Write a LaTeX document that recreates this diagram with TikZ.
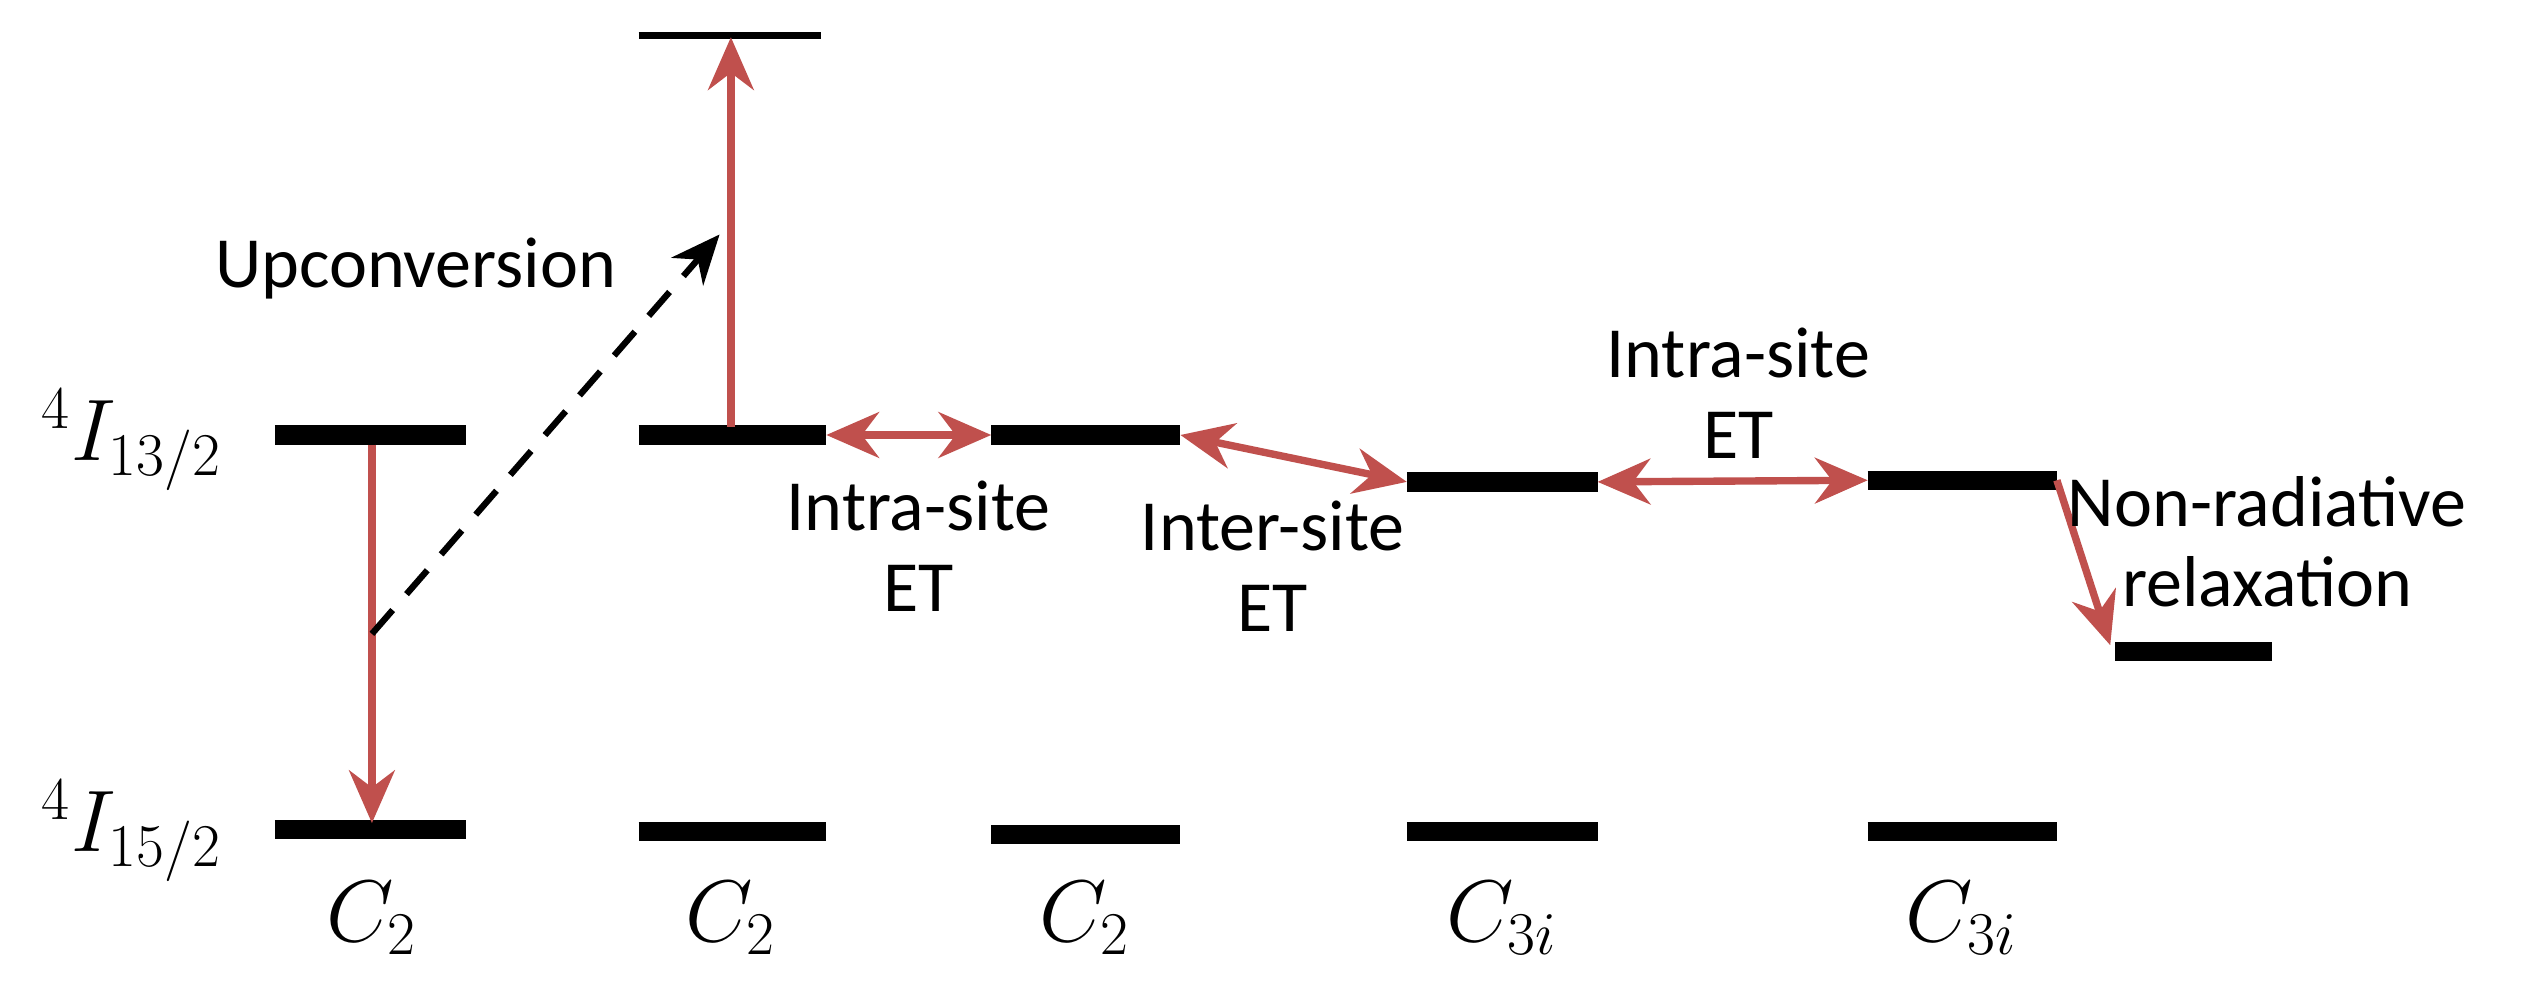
\documentclass[tikz,border=0pt]{standalone}
\usepackage{fontspec}
\setsansfont{Carlito}
\usetikzlibrary{arrows.meta}
\definecolor{arr}{RGB}{192,80,77}
\begin{document}
\begin{tikzpicture}[x=0.01617cm,y=-0.01617cm,
  lev/.style={line width=5.5pt},
  red/.style={draw=arr,line width=2.1pt,-{Stealth[length=15pt,width=13pt]}},
  dred/.style={draw=arr,line width=2.1pt,{Stealth[length=15pt,width=13pt]}-{Stealth[length=15pt,width=13pt]}},
  lab/.style={font=\sffamily\fontsize{20.5}{23}\selectfont,align=center},
  mlab/.style={font=\fontsize{25}{28}\selectfont}]
\useasboundingbox (0,0) rectangle (1567.7,607.3);
% levels
\coordinate (a1l) at (170,269); \coordinate (a1r) at (288,269);
\coordinate (a0l) at (170,513); \coordinate (a0r) at (288,513);
\coordinate (b1l) at (395,269); \coordinate (b1r) at (511,269);
\coordinate (b0l) at (395,514); \coordinate (b0r) at (511,514);
\coordinate (btl) at (395,22); \coordinate (btr) at (508,22);
\coordinate (c1l) at (613,269); \coordinate (c1r) at (730,269);
\coordinate (c0l) at (613,516); \coordinate (c0r) at (730,516);
\coordinate (d1l) at (870,298); \coordinate (d1r) at (988,298);
\coordinate (d0l) at (870,514); \coordinate (d0r) at (988,514);
\coordinate (e1l) at (1155,297); \coordinate (e1r) at (1272,297);
\coordinate (e0l) at (1155,514); \coordinate (e0r) at (1272,514);
\coordinate (f1l) at (1308,403); \coordinate (f1r) at (1405,403);
\foreach \p in {a1,a0,b1,b0,c1,c0,d1,d0,e1,e0,f1} \draw[lev] (\p l) -- (\p r);
\draw[line width=1.9pt] (btl) -- (btr);
% arrows
\coordinate (s1) at (230,275); \coordinate (t1) at (230,509);
\draw[red] (s1) -- (t1);
\coordinate (s2) at (452,264); \coordinate (t2) at (452,23);
\draw[red] (s2) -- (t2);
\draw[dred] (b1r) -- (c1l);
\draw[dred] (c1r) -- (d1l);
\draw[dred] (d1r) -- (e1l);
\coordinate (t6) at (1305,399);
\draw[red] (e1r) -- (t6);
\coordinate (ds) at (230,392); \coordinate (de) at (445,145);
\draw[dashed,dash pattern=on 9pt off 6pt,line width=1.8pt,-{Stealth[length=14pt,width=12pt]}] (ds) -- (de);
% labels
\node[lab] (up) at (257,166) {Upconversion};
\node[lab] (i1) at (568,338) {Intra-site\\ET};
\node[lab] (ie) at (787,350) {Inter-site\\ET};
\node[lab] (i2) at (1075,243) {Intra-site\\ET};
\node[lab] (nr) at (1402,335) {Non-radiative\\relaxation};
\node[mlab,anchor=east] (L1) at (145,272) {$^4I_{13/2}$};
\node[mlab,anchor=east] (L0) at (145,514) {$^4I_{15/2}$};
\node[mlab] (s1l) at (230,568) {$C_2$};
\node[mlab] (s2l) at (452,568) {$C_2$};
\node[mlab] (s3l) at (671,568) {$C_2$};
\node[mlab] (s4l) at (929,568) {$C_{3i}$};
\node[mlab] (s5l) at (1213,568) {$C_{3i}$};
\end{tikzpicture}
\end{document}
